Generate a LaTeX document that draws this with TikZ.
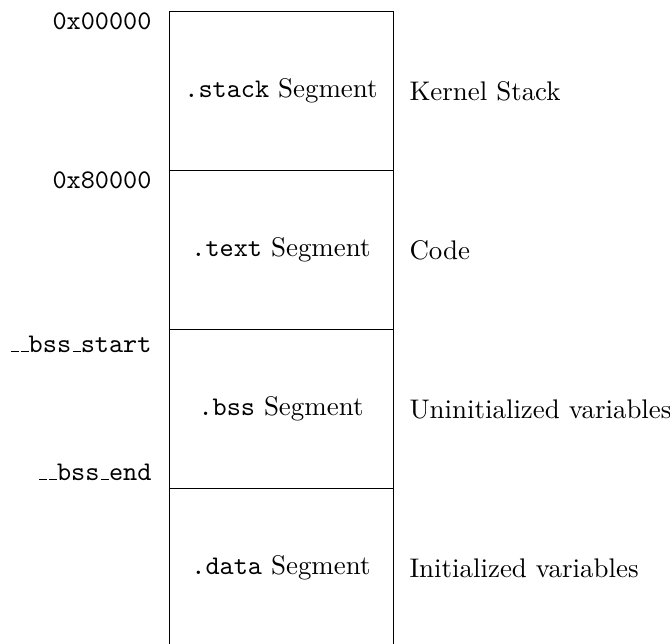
\documentclass[tikz,border=0pt]{standalone}

% narrow low underscore, as in OT1 typewriter text
\newcommand{\usc}{\leavevmode\kern.06em\vbox{\hrule width.3em}}

\begin{document}
\begin{tikzpicture}[x=0.01410cm, y=-0.01410cm,
    every node/.style={font=\fontsize{10.8}{13}\selectfont},
    addr/.style={anchor=east, inner sep=0pt},
    desc/.style={anchor=west, inner sep=0pt}]
    \useasboundingbox (0, 0) rectangle (670, 643);
    % memory segments
    \draw (169, 11) rectangle (393, 660);
    \foreach \y in {170, 329, 488}
        \draw (169, \y) -- (393, \y);
    \foreach \i/\seg/\txt in {0/stack/Kernel Stack, 1/text/Code,
            2/bss/Uninitialized variables, 3/data/Initialized variables} {
        \node (seg\i) at (281, 11 + 159*\i + 80) {\texttt{.\seg} Segment};
        \node[desc] (desc\i) at (409, 11 + 159*\i + 80) {\txt};
    }
    % addresses
    \node[addr] (addr0) at (152, 21) {\texttt{0x00000}};
    \node[addr] (addr1) at (152, 180) {\texttt{0x80000}};
    \node[addr] (bssstart) at (152, 344) {\texttt{\usc\usc bss\usc start}};
    \node[addr] (bssend) at (152, 472) {\texttt{\usc\usc bss\usc end}};
\end{tikzpicture}
\end{document}
